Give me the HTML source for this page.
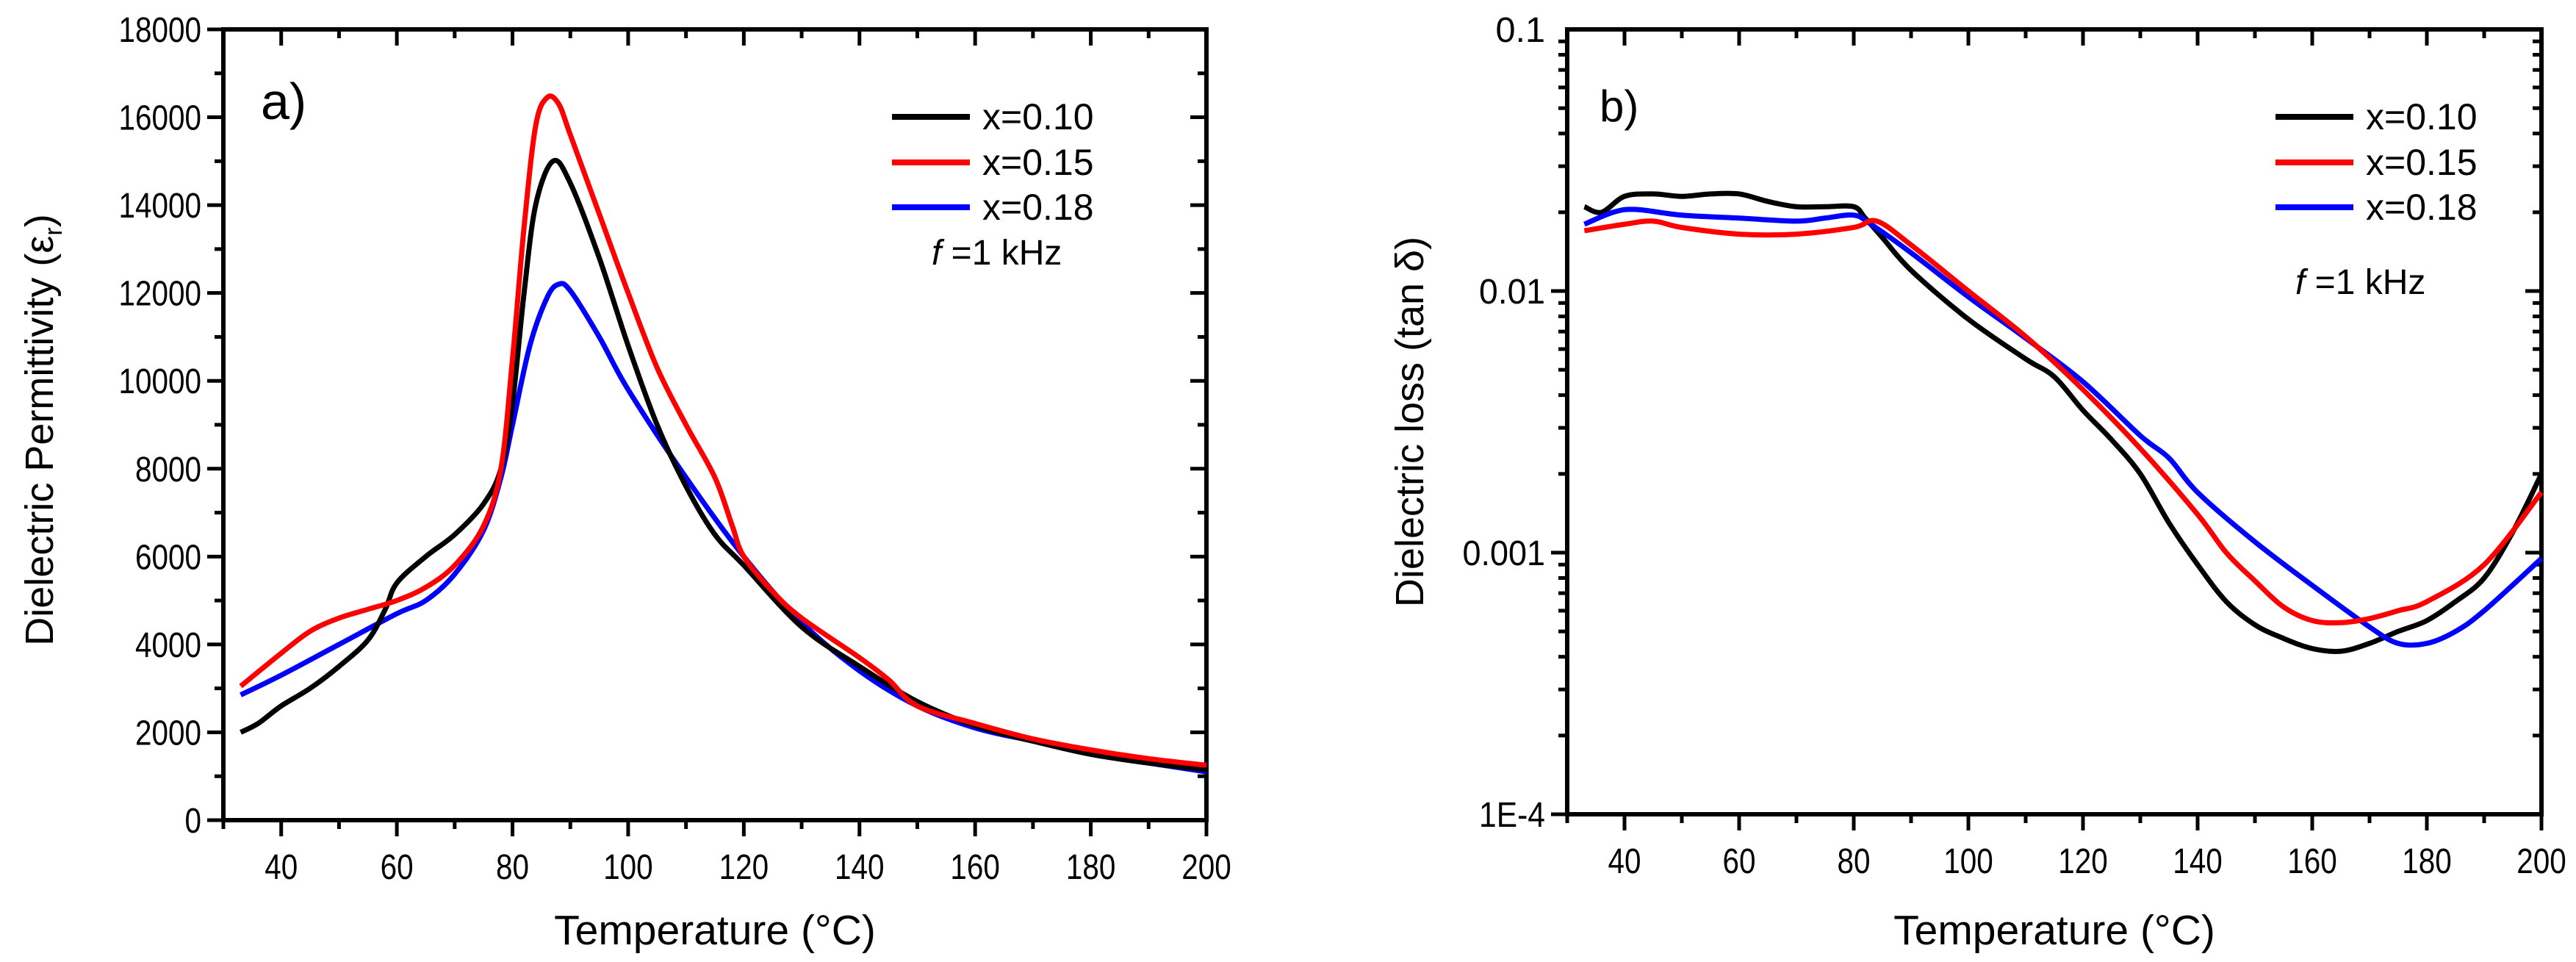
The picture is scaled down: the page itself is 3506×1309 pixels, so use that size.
<!DOCTYPE html>
<html><head><meta charset="utf-8"><style>
body{margin:0;background:#fff}
svg{display:block;font-family:"Liberation Sans",Arial,sans-serif}
</style></head><body>
<svg id="fig" width="3506" height="1309" viewBox="0 0 3506 1309" xmlns="http://www.w3.org/2000/svg"></svg>
<script>
// ---------- data ----------
const tA10=[33,36,40,45,50,55,58,60,65,70,75,78,80,82,84,87,90,95,100,105,110,115,120,130,140,150,160,170,180,190,200];
const eA10=[2000,2200,2600,3000,3500,4100,4800,5400,6000,6500,7200,8000,9500,12000,14000,15000,14500,12800,10800,9000,7600,6500,5800,4400,3500,2700,2150,1800,1500,1300,1150];
const tA15=[33,40,45,50,55,60,65,70,75,78,80,82,84,86,88,90,95,100,105,110,115,118,120,125,130,140,145,150,160,170,180,190,200];
const eA15=[3050,3800,4300,4600,4800,5000,5300,5800,6700,8000,10500,13500,15800,16450,16300,15600,13800,12000,10300,9000,7800,6700,6000,5200,4600,3700,3200,2600,2200,1850,1600,1400,1250];
const tA18=[33,40,50,60,65,70,75,78,80,83,86,88,90,95,100,110,120,130,140,150,160,170,180,190,200];
const eA18=[2850,3300,4000,4700,5000,5600,6600,7800,9000,10800,11900,12200,12050,11000,9800,7800,6000,4500,3400,2600,2100,1800,1500,1300,1100];
const tB10=[33,36,40,45,50,55,60,65,70,75,80,82,85,90,100,110,115,120,125,130,135,140,145,150,155,160,165,170,175,180,185,190,195,200];
const dB10=[0.021,0.020,0.023,0.0235,0.023,0.0235,0.0235,0.022,0.021,0.021,0.021,0.019,0.016,0.012,0.0078,0.0055,0.0047,0.0035,0.0027,0.002,0.0013,0.0009,0.00065,0.00053,0.00047,0.00043,0.00042,0.00045,0.0005,0.00055,0.00065,0.0008,0.0012,0.002];
const tB15=[33,40,45,50,60,70,80,84,90,100,110,120,130,140,145,150,155,160,165,170,175,180,190,200];
const dB15=[0.017,0.018,0.0185,0.0175,0.0165,0.0165,0.0175,0.0185,0.015,0.01,0.0067,0.0042,0.0025,0.0014,0.001,0.00078,0.00062,0.00055,0.00054,0.00056,0.0006,0.00065,0.0009,0.0017];
const tB18=[33,38,42,50,60,70,75,80,83,90,100,110,120,130,135,140,150,160,170,175,180,185,190,200];
const dB18=[0.018,0.02,0.0205,0.0195,0.019,0.0185,0.019,0.0195,0.018,0.014,0.0095,0.0066,0.0045,0.0028,0.0023,0.0017,0.0011,0.00075,0.00052,0.00045,0.00045,0.0005,0.0006,0.00095];
const xTicks=[40,60,80,100,120,140,160,180,200];
const yTicksA=[0,2000,4000,6000,8000,10000,12000,14000,16000,18000];
const yTicksB=[0.0001,0.001,0.01,0.1];
const yTickLabelsB=["1E-4","0.001","0.01","0.1"];
const legendLabels=["x=0.10","x=0.15","x=0.18"];
const colors=["#000000","#ff0000","#0000ff"];

// ---------- axes ----------
const A={x0:304,x1:1642,y0:1116,y1:40};
const B={x0:2133,x1:3459,y0:1108,y1:40};
const xA=t=>A.x0+(t-30)/170*(A.x1-A.x0);
const yA=v=>A.y0-(v/18000)*(A.y0-A.y1);
const xB=t=>B.x0+(t-30)/170*(B.x1-B.x0);
const yB=v=>B.y0-(Math.log10(v)+4)/3*(B.y0-B.y1);

const svg=document.getElementById('fig');
const NS='http://www.w3.org/2000/svg';
function mk(tag,attrs,parent){const e=document.createElementNS(NS,tag);for(const k in attrs)e.setAttribute(k,attrs[k]);(parent||svg).appendChild(e);return e;}
function smooth(pts){let d=`M${pts[0][0]},${pts[0][1]}`;for(let i=0;i<pts.length-1;i++){const p0=pts[i-1]||pts[i],p1=pts[i],p2=pts[i+1],p3=pts[i+2]||p2;const c1=[p1[0]+(p2[0]-p0[0])/6,p1[1]+(p2[1]-p0[1])/6],c2=[p2[0]-(p3[0]-p1[0])/6,p2[1]-(p3[1]-p1[1])/6];d+=` C${c1[0]},${c1[1]} ${c2[0]},${c2[1]} ${p2[0]},${p2[1]}`;}return d;}
function tick(parent,x,y,anchor,s){const t=mk('text',{x:x,y:y,'font-size':48,'text-anchor':anchor,textLength:String(s).length*22.5,lengthAdjust:'spacingAndGlyphs'},parent);t.textContent=s;return t;}

function frame(P,name){
  const g=mk('g',{});
  
  
  mk('rect',{x:P.x0,y:P.y1,width:P.x1-P.x0,height:P.y0-P.y1,fill:'none',stroke:'#000','stroke-width':6},g);
  return g;
}
function xAxis(P,xf,name){
  const g=mk('g',{});
  
  
  for(let t=30;t<=200;t+=10){const x=xf(t);const major=t%20===0;
    mk('line',{x1:x,x2:x,y1:P.y0,y2:P.y0+(major?22:12),stroke:'#000','stroke-width':5},g);
    mk('line',{x1:x,x2:x,y1:P.y1,y2:P.y1+(major?22:12),stroke:'#000','stroke-width':5},g);}
  xTicks.forEach(t=>{const tx=tick(g,xf(t),P.y0+80,'middle',t);
    
    });
}
// Panel A
frame(A,'panel-a');
xAxis(A,xA,'panel-a');
(function(){const g=mk('g',{});
  
  
  for(let v=0;v<=18000;v+=1000){const y=yA(v);const major=v%2000===0;
    mk('line',{x1:A.x0-(major?22:12),x2:A.x0,y1:y,y2:y,stroke:'#000','stroke-width':5},g);
    mk('line',{x1:A.x1-(major?22:12),x2:A.x1,y1:y,y2:y,stroke:'#000','stroke-width':5},g);}
  yTicksA.forEach(v=>{const t=tick(g,A.x0-30,yA(v)+17,'end',v);
    
    });
})();
// Panel B
frame(B,'panel-b');
xAxis(B,xB,'panel-b');
(function(){const g=mk('g',{});
  
  
  for(let d=-4;d<-1;d++){for(let m=1;m<=9;m++){const v=m*Math.pow(10,d);const y=yB(v);const L=m===1?22:12;
    mk('line',{x1:B.x0-L,x2:B.x0,y1:y,y2:y,stroke:'#000','stroke-width':5},g);
    mk('line',{x1:B.x1-L,x2:B.x1,y1:y,y2:y,stroke:'#000','stroke-width':5},g);}}
  yTicksB.forEach((v,i)=>{const t=tick(g,B.x0-30,yB(v)+17,'end',yTickLabelsB[i]);
    
    });
})();

// series
const seriesA=[[tA10,eA10],[tA15,eA15],[tA18,eA18]];
const seriesB=[[tB10,dB10],[tB15,dB15],[tB18,dB18]];
[2,0,1].forEach(i=>{const [ts,vs]=seriesA[i];
  const p=mk('path',{d:smooth(ts.map((t,j)=>[xA(t),yA(vs[j])])),fill:'none',stroke:colors[i],'stroke-width':7,'stroke-linejoin':'round'});
  
  });
[0,2,1].forEach(i=>{const [ts,vs]=seriesB[i];
  const p=mk('path',{d:smooth(ts.map((t,j)=>[xB(t),yB(vs[j])])),fill:'none',stroke:colors[i],'stroke-width':7,'stroke-linejoin':'round'});
  
  });

// legends
function legend(lx,tx,ys,name){legendLabels.forEach((l,i)=>{const g=mk('g',{});
  
  
  mk('line',{x1:lx,x2:lx+106,y1:ys[i],y2:ys[i],stroke:colors[i],'stroke-width':8},g);
  const t=mk('text',{x:tx,y:ys[i]+17,'font-size':50},g);t.textContent=l;});}
legend(1214,1337,[159,221,282],'panel-a');
legend(3097,3220,[159,221,282],'panel-b');

function txt(x,y,s,size,name,extra){const t=mk('text',Object.assign({x:x,y:y,'font-size':size},extra||{}));t.innerHTML=s;
  
  return t;}
txt(1268,360,'<tspan font-style="italic">f</tspan> =1 kHz',48,'panel-a-frequency-note');
txt(3124,400,'<tspan font-style="italic">f</tspan> =1 kHz',48,'panel-b-frequency-note');
txt(355,162,'a)',70,'panel-a-label');
txt(2177,165,'b)',60,'panel-b-label');
txt(973,1285,'Temperature (°C)',57,'panel-a-x-axis-title',{'text-anchor':'middle'});
txt(2796,1285,'Temperature (°C)',57,'panel-b-x-axis-title',{'text-anchor':'middle'});
txt(0,0,'Dielectric Permittivity (ε<tspan font-size="34" dy="12">r</tspan><tspan dy="-12">)</tspan>',54,'panel-a-y-axis-title',{'text-anchor':'middle',transform:'translate(72,585) rotate(-90)'});
txt(0,0,'Dielectric loss (tan δ)',54,'panel-b-y-axis-title',{'text-anchor':'middle',transform:'translate(1937,574) rotate(-90)'});
</script>
</body></html>
